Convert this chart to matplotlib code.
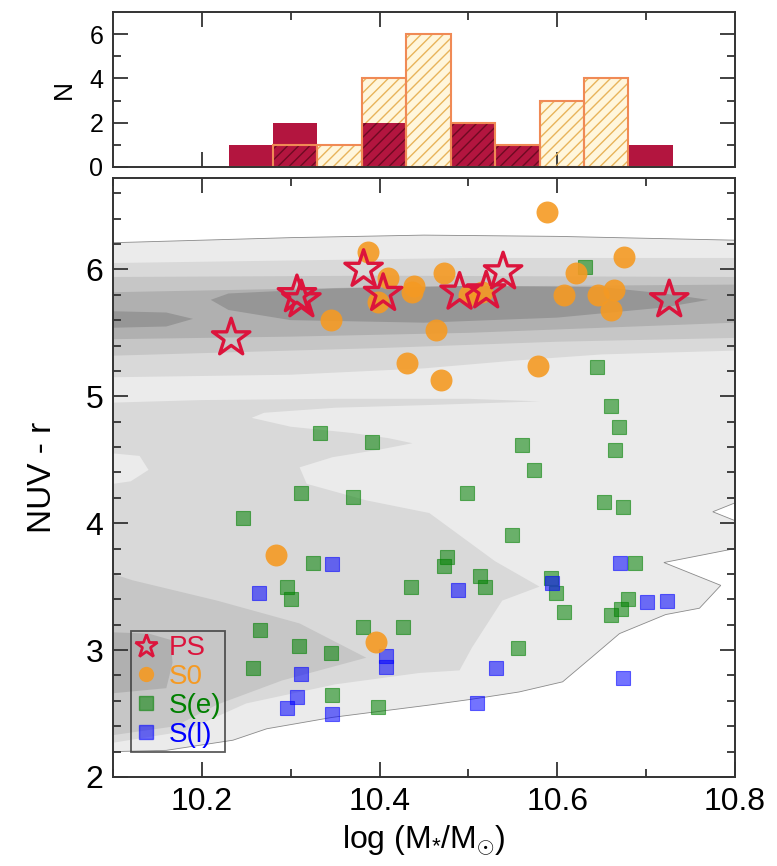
import numpy as np
import matplotlib.pyplot as plt
from matplotlib.lines import Line2D

plt.rcParams['font.family'] = ['Liberation Sans', 'DejaVu Sans']
plt.rcParams['mathtext.fontset'] = 'custom'
plt.rcParams['mathtext.rm'] = 'Liberation Sans'
plt.rcParams['mathtext.it'] = 'Liberation Sans:italic'
plt.rcParams['hatch.linewidth'] = 1.0

# number counts per mass bin (PS and S0 samples)
bin_edges = [10.23, 10.28, 10.33, 10.38, 10.43, 10.48, 10.53, 10.58, 10.63, 10.68, 10.73]
ps_counts = [1, 2, 0, 2, 0, 2, 1, 0, 0, 1]
s0_counts = [0, 1, 1, 4, 6, 2, 1, 3, 4, 0]

# stellar mass vs NUV - r for each morphological class
ps_mass = [10.233, 10.307, 10.312, 10.382, 10.404, 10.490, 10.520, 10.539, 10.726]
ps_color = [5.46, 5.80, 5.76, 6.00, 5.81, 5.82, 5.83, 5.98, 5.76]

s0_mass = [10.387, 10.410, 10.439, 10.436, 10.398, 10.345, 10.431, 10.463, 10.469, 10.588, 10.473,
           10.501, 10.515, 10.578, 10.621, 10.675, 10.608, 10.646, 10.664, 10.660, 10.283, 10.396]
s0_color = [6.14, 5.93, 5.87, 5.82, 5.74, 5.60, 5.26, 5.52, 5.13, 6.45, 5.97,
            5.80, 5.82, 5.24, 5.97, 6.10, 5.80, 5.80, 5.84, 5.68, 3.75, 3.06]

se_mass = [10.631, 10.645, 10.660, 10.670, 10.560, 10.665, 10.333, 10.392, 10.574, 10.312,
           10.370, 10.498, 10.246, 10.653, 10.674, 10.549, 10.325, 10.476, 10.472, 10.687,
           10.513, 10.519, 10.593, 10.599, 10.296, 10.300, 10.435, 10.607, 10.680, 10.672,
           10.660, 10.265, 10.381, 10.426, 10.309, 10.345, 10.556, 10.257, 10.347, 10.398]
se_color = [6.02, 5.23, 4.92, 4.76, 4.62, 4.58, 4.71, 4.64, 4.42, 4.24,
            4.21, 4.24, 4.04, 4.17, 4.13, 3.91, 3.69, 3.73, 3.66, 3.69,
            3.58, 3.50, 3.57, 3.45, 3.50, 3.40, 3.50, 3.30, 3.40, 3.32,
            3.28, 3.16, 3.18, 3.18, 3.03, 2.98, 3.02, 2.86, 2.65, 2.55]

sl_mass = [10.347, 10.264, 10.488, 10.594, 10.671, 10.701, 10.724, 10.312,
           10.407, 10.407, 10.307, 10.296, 10.346, 10.531, 10.510, 10.674]
sl_color = [3.68, 3.45, 3.47, 3.53, 3.69, 3.38, 3.39, 2.81,
            2.95, 2.87, 2.63, 2.54, 2.50, 2.86, 2.58, 2.78]

# density contours of the comparison sample, outermost level first
level1 = [(10.1, 6.21), (10.3, 6.25), (10.45, 6.27), (10.6, 6.26), (10.8, 6.23),
          (10.8, 4.16), (10.775, 4.09), (10.8, 4.02), (10.8, 3.80), (10.72, 3.69),
          (10.784, 3.51), (10.76, 3.33), (10.722, 3.28), (10.67, 3.13), (10.639, 2.945),
          (10.606, 2.75), (10.557, 2.67), (10.501, 2.61), (10.456, 2.567), (10.347, 2.47),
          (10.273, 2.38), (10.235, 2.29), (10.16, 2.21), (10.1, 2.2)]
level2_mid = [(10.1, 4.95), (10.2, 4.97), (10.35, 4.98), (10.5, 4.98), (10.58, 4.96),
              (10.45, 4.93), (10.35, 4.91), (10.27, 4.87), (10.256, 4.83), (10.3, 4.76),
              (10.37, 4.71), (10.41, 4.67), (10.437, 4.63), (10.40, 4.58), (10.347, 4.52),
              (10.31, 4.44), (10.318, 4.31), (10.385, 4.18), (10.456, 4.08), (10.493, 3.89),
              (10.53, 3.70), (10.58, 3.50), (10.538, 3.39), (10.504, 3.02), (10.49, 2.84),
              (10.445, 2.82), (10.35, 2.73), (10.25, 2.58), (10.18, 2.36), (10.1, 2.27)]
level1_hole = [(10.1, 4.55), (10.13, 4.53), (10.14, 4.42), (10.12, 4.33), (10.1, 4.31)]
level3_mid = [(10.1, 3.60), (10.122, 3.55), (10.217, 3.39), (10.31, 3.21), (10.385, 2.94),
              (10.29, 2.76), (10.217, 2.57), (10.17, 2.40), (10.1, 2.33)]
level4_mid = [(10.1, 3.14), (10.14, 3.13), (10.165, 3.08), (10.167, 2.9), (10.16, 2.7), (10.1, 2.66)]
level2_top = [(10.1, 6.05), (10.3, 6.07), (10.5, 6.09), (10.8, 6.09),
              (10.8, 5.36), (10.65, 5.33), (10.55, 5.28), (10.45, 5.22), (10.3, 5.17), (10.1, 5.15)]
level3_top = [(10.1, 5.94), (10.4, 5.95), (10.8, 5.94),
              (10.8, 5.46), (10.6, 5.43), (10.4, 5.38), (10.1, 5.32)]
level4_top = [(10.1, 5.82), (10.4, 5.86), (10.8, 5.88),
              (10.8, 5.58), (10.5, 5.50), (10.3, 5.47), (10.1, 5.45)]
level5_top = [(10.23, 5.81), (10.35, 5.85), (10.5, 5.87), (10.65, 5.86), (10.72, 5.81),
              (10.77, 5.76), (10.72, 5.70), (10.6, 5.62), (10.45, 5.58), (10.3, 5.60),
              (10.23, 5.68), (10.21, 5.76)]
level5_left = [(10.1, 5.67), (10.16, 5.66), (10.19, 5.61), (10.16, 5.55), (10.1, 5.54)]

grays = ['#ebebeb', '#d9d9d9', '#c6c6c6', '#b0b0b0', '#969696']
crimson = '#dc143c'
orange = '#f59a23'

fig = plt.figure(figsize=(7.77, 8.66), dpi=100)
ax = fig.add_axes([113 / 777, 89 / 866, 622 / 777, 599 / 866])
axh = fig.add_axes([113 / 777, 699 / 866, 622 / 777, 155 / 866])


def fill_poly(pts, color, **kw):
    xs, ys = zip(*pts)
    ax.fill(xs, ys, color=color, lw=0, zorder=1, **kw)


# contours
xs, ys = zip(*level1)
ax.fill(xs, ys, facecolor=grays[0], edgecolor='#8a8a8a', lw=0.6, zorder=1)
fill_poly(level2_mid, grays[1])
fill_poly(level1_hole, grays[0])
fill_poly(level3_mid, grays[2])
fill_poly(level4_mid, grays[3])
fill_poly(level2_top, grays[1])
fill_poly(level3_top, grays[2])
fill_poly(level4_top, grays[3])
fill_poly(level5_top, grays[4])
fill_poly(level5_left, grays[4])

# galaxies
ax.scatter(se_mass, se_color, s=115, marker='s', color='green', alpha=0.55, lw=0.8, zorder=3)
ax.scatter(sl_mass, sl_color, s=115, marker='s', color='blue', alpha=0.55, lw=0.8, zorder=4)
ax.scatter(s0_mass, s0_color, s=250, marker='o', color=orange, alpha=0.9, lw=0, zorder=5)
ax.scatter(ps_mass, ps_color, s=800, marker='*', facecolor='none', edgecolor=crimson, lw=2.4, zorder=6)

ax.set_xlim(10.1, 10.8)
ax.set_ylim(2, 6.72)
ax.set_xticks([10.2, 10.4, 10.6, 10.8])
ax.set_xticks(np.arange(10.1, 10.8, 0.1), minor=True)
ax.set_yticks([2, 3, 4, 5, 6])
ax.set_yticks(np.arange(2, 6.72, 0.2), minor=True)
ax.set_xticklabels(['10.2', '10.4', '10.6', '10.8'])
ax.set_xlabel(r'log (M$_{*}$/M$_{\odot}$)', fontsize=23, labelpad=5)
ax.set_ylabel('NUV - r', fontsize=24, labelpad=20)

handles = [
    Line2D([], [], ls='none', marker='*', ms=17, mfc='none', mec=crimson, mew=2),
    Line2D([], [], ls='none', marker='o', ms=11, mfc=orange, mec='none', alpha=0.9),
    Line2D([], [], ls='none', marker='s', ms=10, mfc='green', mec='green', alpha=0.55),
    Line2D([], [], ls='none', marker='s', ms=10, mfc='blue', mec='blue', alpha=0.55),
]
leg = ax.legend(handles, ['PS', 'S0', 'S(e)', 'S(l)'], loc='lower left',
                bbox_to_anchor=(0.029, 0.042), borderaxespad=0, fontsize=20,
                labelcolor=[crimson, orange, 'green', 'blue'], frameon=True, fancybox=False,
                handlelength=0.8, handletextpad=0.4, labelspacing=0.1, borderpad=0.15)
leg.get_frame().set_facecolor('none')
leg.get_frame().set_edgecolor('#333333')
leg.get_frame().set_linewidth(1.3)
leg.set_zorder(7)

# histogram: S0 fill, PS on top, hatching over both, S0 outline
left = bin_edges[:-1]
width = np.diff(bin_edges)
overlap = np.minimum(ps_counts, s0_counts)
axh.bar(left, s0_counts, width=width, align='edge', color='#fff6dc', lw=0, zorder=1)
axh.bar(left, s0_counts, width=width, align='edge', facecolor='none', edgecolor='#e8b45a',
        hatch='///', lw=0, zorder=2)
axh.bar(left, ps_counts, width=width, align='edge', color='#b3153f', lw=0, zorder=3)
axh.bar(left, overlap, width=width, align='edge', facecolor='none', edgecolor='#6e0a22',
        hatch='///', lw=0, zorder=4)
axh.bar(left, s0_counts, width=width, align='edge', facecolor='none', edgecolor='#f08a55',
        lw=1.5, zorder=5)
axh.set_xlim(10.1, 10.8)
axh.set_ylim(0, 7)
axh.set_xticks([10.2, 10.4, 10.6])
axh.set_xticks([10.3, 10.5, 10.7], minor=True)
axh.set_xticklabels([])
axh.set_yticks([0, 2, 4, 6])
axh.set_yticks([1, 3, 5], minor=True)
axh.set_ylabel('N', fontsize=19, labelpad=10)

for a, fs in ((ax, 23), (axh, 18)):
    for sp in a.spines.values():
        sp.set_linewidth(1.4)
        sp.set_color('#333333')
        sp.set_zorder(10)
    a.tick_params(which='both', direction='in', top=True, right=True, color='#333333', width=1.3)
    a.tick_params(which='major', length=11, labelsize=fs, pad=7)
    a.tick_params(which='minor', length=6)

fig.savefig('out.png', dpi=100)
